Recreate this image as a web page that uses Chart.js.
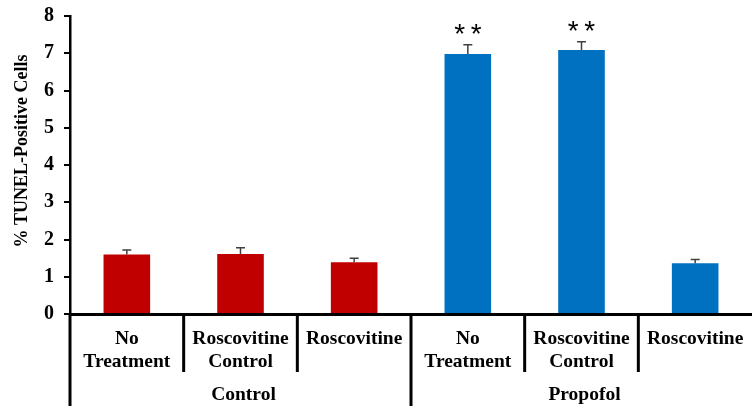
<!DOCTYPE html>
<html>
<head>
<meta charset="utf-8">
<script src="https://cdn.jsdelivr.net/npm/chart.js@4"></script>
<style>
    html, body { margin: 0; padding: 0; background: #fff; }
    #wrap { width: 752px; height: 410px; }
</style>
</head>
<body>
<div id="wrap"><canvas id="barChart"></canvas></div>
<script>
// data
var categories = [["No", "Treatment"], ["Roscovitine", "Control"], "Roscovitine",
                  ["No", "Treatment"], ["Roscovitine", "Control"], "Roscovitine"];
var groups = ["Control", "Propofol"];
var groupSize = 3;
var values = [1.60, 1.61, 1.39, 6.98, 7.09, 1.36];
var errors = [0.12, 0.17, 0.11, 0.25, 0.22, 0.10];
var marks = ["", "", "", "**", "**", ""];
var barColors = ["#C00000", "#C00000", "#C00000", "#0070C0", "#0070C0", "#0070C0"];
var yTitle = "% TUNEL-Positive Cells";
var yMin = 0, yMax = 8, yStep = 1;

var serif = "'Liberation Serif', 'Times New Roman', serif";

// error bars, asterisks, divider lines, group names and the y title
var extras = {
    id: "extras",
    afterDatasetsDraw: function (chart) {
        var ctx = chart.ctx;
        var x = chart.scales.x, y = chart.scales.y;
        ctx.save();
        ctx.strokeStyle = "#404040";
        ctx.lineWidth = 1.5;
        values.forEach(function (v, i) {
            var px = x.getPixelForValue(i);
            var top = y.getPixelForValue(v + errors[i]);
            ctx.beginPath();
            ctx.moveTo(px, y.getPixelForValue(v));
            ctx.lineTo(px, top);
            ctx.moveTo(px - 4.5, top);
            ctx.lineTo(px + 4.5, top);
            ctx.stroke();
            if (marks[i]) {
                ctx.fillStyle = "#000";
                ctx.font = "28px 'Liberation Sans', Arial, sans-serif";
                ctx.textAlign = "center";
                ctx.textBaseline = "alphabetic";
                var n = marks[i].length;
                for (var k = 0; k < n; k++) {
                    ctx.fillText(marks[i][k], px + (k - (n - 1) / 2) * 16.5, top - 2);
                }
            }
        });
        ctx.restore();
    },
    afterDraw: function (chart) {
        var ctx = chart.ctx;
        var x = chart.scales.x;
        var base = chart.chartArea.bottom;
        var half = (x.getPixelForValue(1) - x.getPixelForValue(0)) / 2;
        ctx.save();
        ctx.strokeStyle = "#000";
        ctx.lineWidth = 3;
        for (var i = 0; i < values.length; i++) {
            var edge = x.getPixelForValue(i) - half;
            var long = i % groupSize === 0;
            ctx.beginPath();
            ctx.moveTo(edge, base);
            ctx.lineTo(edge, long ? 406 : 372);
            ctx.stroke();
        }
        ctx.fillStyle = "#000";
        ctx.font = "bold 19.5px " + serif;
        ctx.textAlign = "center";
        ctx.textBaseline = "middle";
        groups.forEach(function (g, k) {
            var a = x.getPixelForValue(k * groupSize) - half;
            var b = x.getPixelForValue(k * groupSize + groupSize - 1) + half;
            ctx.fillText(g, (a + b) / 2 + 3, 395);
        });
        // y title sits a little above the middle of the axis in the original
        ctx.translate(22, 151);
        ctx.rotate(-Math.PI / 2);
        ctx.font = "bold 18px " + serif;
        ctx.fillText(yTitle, 0, 0);
        ctx.restore();
    }
};

var ctx = document.getElementById("barChart").getContext("2d");
var barChart = new Chart(ctx, {
    type: "bar",
    data: {
        labels: categories,
        datasets: [{
            data: values,
            backgroundColor: barColors,
            categoryPercentage: 1,
            barPercentage: 0.41
        }]
    },
    options: {
        responsive: true,
        maintainAspectRatio: false,
        animation: false,
        layout: { padding: { top: 16, right: 0, left: 0, bottom: 0 } },
        plugins: {
            legend: { display: false },
            tooltip: { enabled: false }
        },
        scales: {
            y: {
                min: yMin,
                max: yMax,
                afterFit: function (scale) {
                    scale.width = 70;
                    scale.paddingTop = 0;
                    scale.paddingBottom = 0;
                },
                ticks: {
                    stepSize: yStep,
                    color: "#000",
                    padding: 10,
                    font: { family: serif, size: 20, weight: "bold" }
                },
                grid: { drawOnChartArea: false, tickLength: 6, color: "#000", lineWidth: 2 },
                border: { color: "#000", width: 2.5 }
            },
            x: {
                afterFit: function (scale) { scale.height = 96; },
                ticks: {
                    color: "#000",
                    padding: 6,
                    maxRotation: 0,
                    autoSkip: false,
                    font: { family: serif, size: 19.5, weight: "bold", lineHeight: 1.15 }
                },
                grid: { display: false },
                border: { color: "#000", width: 3 }
            }
        }
    },
    plugins: [extras]
});
</script>
</body>
</html>
